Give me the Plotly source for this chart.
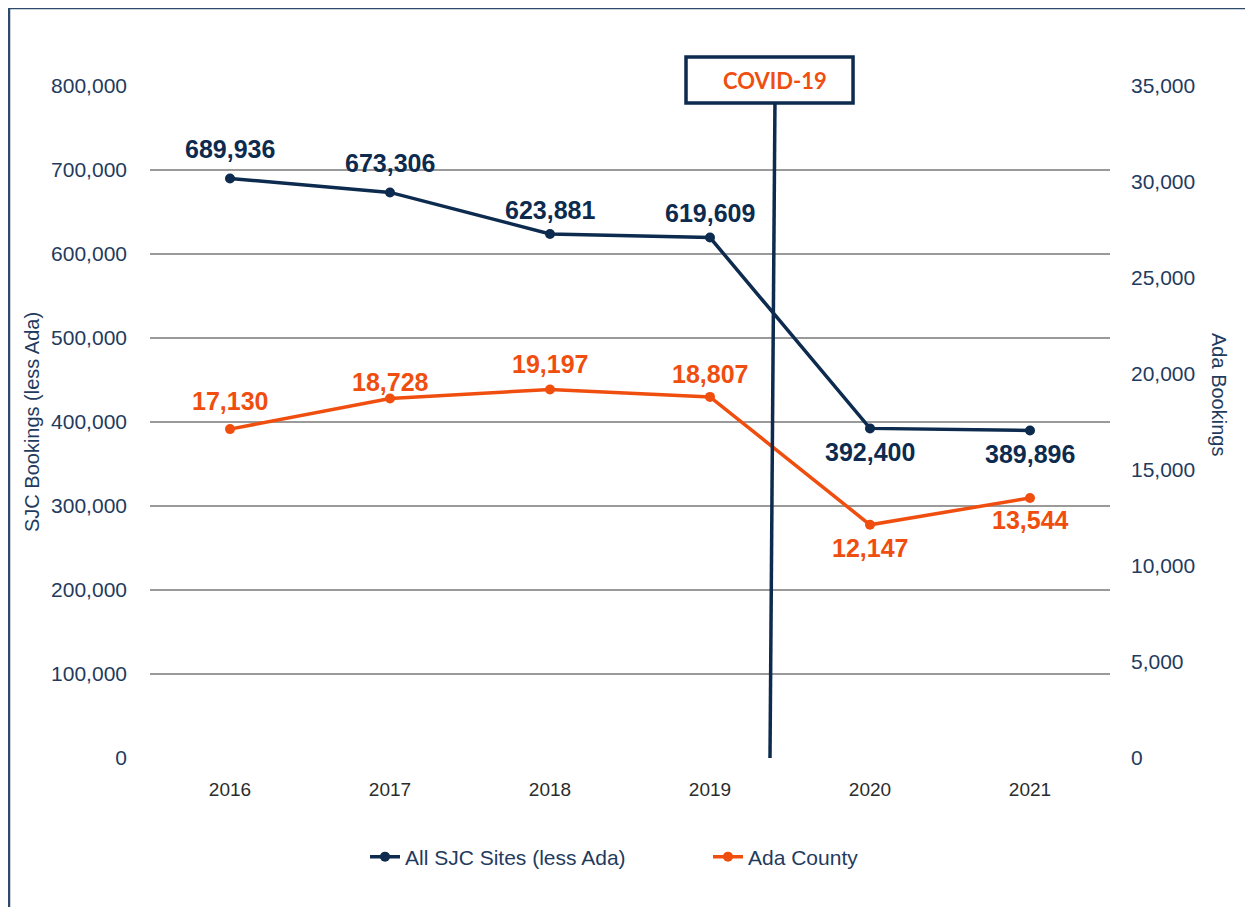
import plotly.graph_objects as go

years = ["2016", "2017", "2018", "2019", "2020", "2021"]
sjc_values = [689936, 673306, 623881, 619609, 392400, 389896]
ada_values = [17130, 18728, 19197, 18807, 12147, 13544]
sjc_name = "All SJC Sites (less Ada)"
ada_name = "Ada County"
left_title = "SJC Bookings (less Ada)"
right_title = "Ada Bookings"
covid_label = "COVID-19"

NAVY = "#0d2b4e"
ORANGE = "#f04e0f"
TICK = "#1f3b5e"
GRID = "#9a9a9a"
OFF = 8  # page body margin offset
W, H = 1253 - OFF, 907 - OFF
ML, MT = 150 - OFF, 86 - OFF
MR = W - (1110 - OFF)
MB = H - (758 - OFF)

# label offsets (pixels) – style only
sjc_shift = [29, 29, 24, 25, -24, -24]
ada_shift = [28, 16, 25, 23, -23, -22]

fig = go.Figure()
fig.add_trace(go.Scatter(
    x=years, y=sjc_values, name=sjc_name, mode="lines+markers",
    line=dict(color=NAVY, width=3.5), marker=dict(size=10, color=NAVY),
    yaxis="y"))
fig.add_trace(go.Scatter(
    x=years, y=ada_values, name=ada_name, mode="lines+markers",
    line=dict(color=ORANGE, width=3.5), marker=dict(size=10, color=ORANGE),
    yaxis="y2"))

annotations = []
for i, (v, s) in enumerate(zip(sjc_values, sjc_shift)):
    annotations.append(dict(x=i, y=v, xref="x", yref="y", text=f"{v:,}",
                            showarrow=False, yshift=s, xanchor="center", yanchor="middle",
                            font=dict(family="Liberation Sans", size=25, color=NAVY, weight="bold")))
for i, (v, s) in enumerate(zip(ada_values, ada_shift)):
    annotations.append(dict(x=i, y=v, xref="x", yref="y2", text=f"{v:,}",
                            showarrow=False, yshift=s, xanchor="center", yanchor="middle",
                            font=dict(family="Liberation Sans", size=25, color=ORANGE, weight="bold")))

plot_h = H - MT - MB
plot_w = W - ML - MR
def py(pix):  # reference pixel -> paper y
    return (758 - pix) / plot_h
def px(pix):  # reference pixel -> paper x
    return (pix - 150) / plot_w

# COVID marker (decoration)
covid_x_bottom, covid_x_top = 3.375, 3.406
box_x0, box_x1 = 2.85, 3.894
FRAME = "#2c4a6a"
shapes = [
    dict(type="line", xref="x", yref="paper", x0=covid_x_bottom, x1=covid_x_top,
         y0=0, y1=py(103), line=dict(color=NAVY, width=3.5)),
    dict(type="rect", xref="x", yref="paper", x0=box_x0, x1=box_x1,
         y0=py(103), y1=py(57), fillcolor="white", line=dict(color=NAVY, width=3.5)),
    # outer frame (top and left edges)
    dict(type="line", xref="paper", yref="paper", x0=px(8), x1=px(1260),
         y0=py(8), y1=py(8), line=dict(color=FRAME, width=2.5)),
    dict(type="line", xref="paper", yref="paper", x0=px(9), x1=px(9),
         y0=py(8), y1=py(920), line=dict(color=FRAME, width=2.5)),
]
annotations.append(dict(x=(box_x0 + box_x1) / 2, y=(py(103) + py(57)) / 2, xref="x", yref="paper",
                        text=covid_label, showarrow=False, xanchor="center", yanchor="middle",
                        xshift=5,
                        font=dict(family="Lato", size=22, color=ORANGE, weight="bold")))
annotations.append(dict(x=px(1219), y=py(394), xref="paper", yref="paper",
                        text=right_title, showarrow=False, textangle=90,
                        xanchor="center", yanchor="middle",
                        font=dict(family="Liberation Sans", size=20, color=TICK)))

fig.update_layout(
    width=W, height=H,
    margin=dict(l=ML, r=MR, t=MT, b=MB),
    paper_bgcolor="white", plot_bgcolor="white",
    font=dict(family="Liberation Sans", color=TICK),
    showlegend=True,
    legend=dict(orientation="h", x=px(365), xanchor="left", y=py(857), yanchor="middle",
                font=dict(size=21, color=TICK), entrywidth=298, entrywidthmode="pixels"),
    xaxis=dict(type="category", range=[-0.5, 5.5], showgrid=False, showline=False,
               zeroline=False, ticks="", ticklabelstandoff=18,
               tickfont=dict(size=19, color="#2b2b2b")),
    yaxis=dict(range=[0, 800000], dtick=100000, tickformat=",d", showgrid=True,
               gridcolor=GRID, gridwidth=1.5, zeroline=False, showline=False, ticks="",
               ticklabelstandoff=22, tickfont=dict(size=21, color=TICK),
               title=dict(text=left_title, font=dict(size=20, color=TICK), standoff=6)),
    yaxis2=dict(range=[0, 35000], dtick=5000, tickformat=",d", overlaying="y", side="right",
                showgrid=False, zeroline=False, showline=False, ticks="",
                ticklabelstandoff=20, tickfont=dict(size=21, color=TICK)),
    shapes=shapes,
    annotations=annotations,
)

fig.write_html("out.html")
